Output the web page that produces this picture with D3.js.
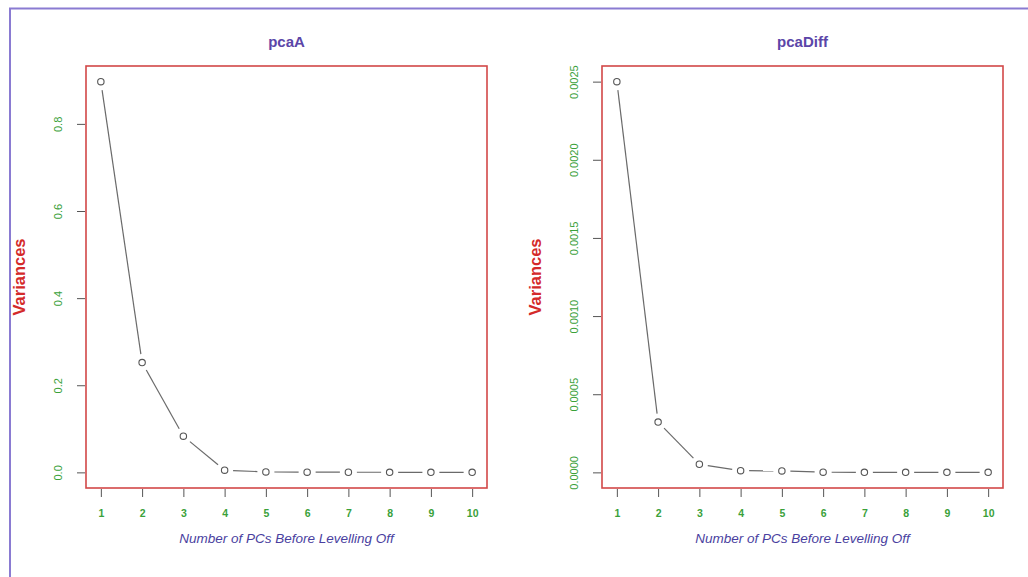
<!DOCTYPE html>
<html>
<head>
<meta charset="utf-8">
<script src="https://cdn.jsdelivr.net/npm/d3@7"></script>
<style>
  html, body { margin: 0; padding: 0; background: #fff; }
  svg { display: block; font-family: "Liberation Sans", Arial, sans-serif; }
</style>
</head>
<body>
<svg id="chart" width="1028" height="577"></svg>
<script>
// Scree data: variance explained by each principal component
const components = [1, 2, 3, 4, 5, 6, 7, 8, 9, 10];
const pcaAVariances = [0.897, 0.252, 0.083, 0.005, 0.001, 0.0005, 0.0003, 0.0002, 0.0001, 0.0];
const pcaDiffVariances = [0.0025, 0.000322, 0.000052, 0.000011, 0.000009, 0.000001, 0.0000005, 0.0000003, 0.0000002, 0.0];
const pcaATicks = [0.0, 0.2, 0.4, 0.6, 0.8];
const pcaDiffTicks = [0.0000, 0.0005, 0.0010, 0.0015, 0.0020, 0.0025];

const panels = [
  { title: "pcaA", values: pcaAVariances, ticks: pcaATicks, fmt: d3.format(".1f"), left: 86 },
  { title: "pcaDiff", values: pcaDiffVariances, ticks: pcaDiffTicks, fmt: d3.format(".4f"), left: 602 }
];

const svg = d3.select("#chart");
const boxW = 401, boxTop = 66, boxBottom = 488;

// outer frame
svg.append("path")
  .attr("d", "M10,580 L10,8.5 L1030,8.5")
  .attr("fill", "none")
  .attr("stroke", "#8a7bd2")
  .attr("stroke-width", 2);

// R-style padded domain (4% each side)
function pad(lo, hi) {
  const d = (hi - lo) * 0.04;
  return [lo - d, hi + d];
}

panels.forEach(p => {
  const x0 = p.left, x1 = p.left + boxW;
  const x = d3.scaleLinear().domain(pad(1, 10)).range([x0, x1]);
  const y = d3.scaleLinear().domain(pad(d3.min(p.values), d3.max(p.values))).range([boxBottom, boxTop]);
  const g = svg.append("g");

  // title
  g.append("text")
    .attr("x", (x0 + x1) / 2).attr("y", 47)
    .attr("text-anchor", "middle")
    .attr("font-weight", "bold").attr("font-size", 15)
    .attr("fill", "#5b46a8")
    .text(p.title);

  // y axis label
  g.append("text")
    .attr("transform", `translate(${x0 - 61},${(boxTop + boxBottom) / 2}) rotate(-90)`)
    .attr("text-anchor", "middle")
    .attr("font-weight", "bold").attr("font-size", 16.5)
    .attr("fill", "#d42a2a")
    .text("Variances");

  // x axis
  const xAxis = d3.axisBottom(x).tickValues(components).tickSize(8).tickPadding(13).tickFormat(d3.format("d"));
  const gx = g.append("g").attr("transform", `translate(0,${boxBottom + 1})`).call(xAxis);
  gx.select(".domain").remove();
  gx.selectAll(".tick line").attr("stroke", "#555");
  gx.selectAll(".tick text").attr("fill", "#3aa13a").attr("font-size", 10.5).attr("font-weight", "bold");

  // y axis with rotated labels
  const yAxis = d3.axisLeft(y).tickValues(p.ticks).tickSize(8).tickFormat(p.fmt);
  const gy = g.append("g").attr("transform", `translate(${x0 - 1},0)`).call(yAxis);
  gy.select(".domain").remove();
  gy.selectAll(".tick line").attr("stroke", "#555");
  gy.selectAll(".tick text")
    .attr("fill", "#3aa13a").attr("font-size", 11)
    .attr("x", null).attr("dy", null)
    .attr("text-anchor", "middle")
    .attr("transform", "translate(-26,0) rotate(-90)")
    .attr("dominant-baseline", "middle");

  // x axis title
  g.append("text")
    .attr("x", (x0 + x1) / 2).attr("y", 543)
    .attr("text-anchor", "middle")
    .attr("font-style", "italic").attr("font-size", 13.5)
    .attr("fill", "#4a3fa0")
    .text("Number of PCs Before Levelling Off");

  // line with gaps around each point (type "b")
  const pts = p.values.map((v, i) => [x(components[i]), y(v)]);
  const gap = 8.5;
  for (let i = 0; i < pts.length - 1; i++) {
    const [ax, ay] = pts[i], [bx, by] = pts[i + 1];
    const len = Math.hypot(bx - ax, by - ay);
    if (len <= 2 * gap) continue;
    const ux = (bx - ax) / len, uy = (by - ay) / len;
    g.append("line")
      .attr("x1", ax + ux * gap).attr("y1", ay + uy * gap)
      .attr("x2", bx - ux * gap).attr("y2", by - uy * gap)
      .attr("stroke", "#6a6a6a").attr("stroke-width", 1.2);
  }

  g.selectAll("circle.pt").data(p.values).join("circle")
    .attr("class", "pt")
    .attr("cx", (d, i) => x(components[i]))
    .attr("cy", d => y(d))
    .attr("r", 3.2)
    .attr("fill", "none")
    .attr("stroke", "#555")
    .attr("stroke-width", 1.1);

  // plot box
  g.append("rect")
    .attr("x", x0).attr("y", boxTop)
    .attr("width", boxW).attr("height", boxBottom - boxTop)
    .attr("fill", "none")
    .attr("stroke", "#d24848")
    .attr("stroke-width", 1.6);
});
</script>
</body>
</html>
